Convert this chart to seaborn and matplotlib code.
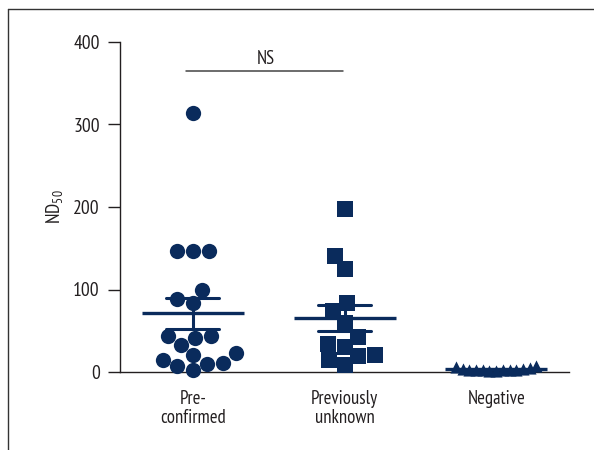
import numpy as np
import pandas as pd
import seaborn as sns
import matplotlib.pyplot as plt
from matplotlib.lines import Line2D
from matplotlib.path import Path

# ---- data ----
groups = ["Pre-\nconfirmed", "Previously\nunknown", "Negative"]
pre_confirmed = [314, 147, 147, 147, 99, 89, 84, 44, 41, 44, 33, 23, 21, 14, 10, 7, 11, 2]
previously_unknown = [198, 141, 125, 84, 74, 60, 42, 30, 34, 19, 21, 14, 8]
negative = [3, 2, 1, 4, 6, 3, 5, 2, 1, 7, 3, 4, 2]
y_ticks = [0, 100, 200, 300, 400]
sig_label = "NS"
sig_value = 365

navy = "#0a2b5c"
dark = "#231f20"
FONT = ["PT Sans Narrow", "DejaVu Sans"]

sns.set_theme(style="white")
plt.rcParams["font.family"] = FONT
plt.rcParams["mathtext.fontset"] = "custom"
plt.rcParams["mathtext.rm"] = "PT Sans Narrow"
plt.rcParams["mathtext.it"] = "PT Sans Narrow"
plt.rcParams["mathtext.bf"] = "PT Sans Narrow"

df = pd.DataFrame({
    "group": [groups[0]] * len(pre_confirmed) + [groups[1]] * len(previously_unknown) + [groups[2]] * len(negative),
    "value": pre_confirmed + previously_unknown + negative,
})

fig = plt.figure(figsize=(5.94, 4.5), dpi=100)
ax = fig.add_axes([120 / 594, 1 - 372 / 450, (569 - 120) / 594, (372 - 42) / 450])

# mean +/- SEM
sns.pointplot(data=df, x="group", y="value", order=groups, errorbar="se",
              capsize=0.35, linestyle="none", marker="_", markersize=74,
              markeredgewidth=2.4, color=navy, err_kws={"linewidth": 2.2},
              ax=ax, zorder=2)

markers = ["o", "s", "^"]
sizes = [11, 11.5, 4.6]      # swarm layout size (pt)
scale = [1.0, 1.0, 1.9]      # drawn marker enlargement (overlapping swarm)
for g, m, s, k in zip(groups, markers, sizes, scale):
    sub = df[df["group"] == g]
    n0 = len(ax.collections)
    sns.swarmplot(data=sub, x="group", y="value", order=groups, marker=m,
                  size=s, color=navy, linewidth=0, ax=ax, warn_thresh=1, zorder=3)
    if k != 1.0:
        for c in ax.collections[n0:]:
            p = c.get_paths()[0]
            c.set_paths([Path(p.vertices * k, p.codes)])

for c in ax.collections:
    c.set_clip_on(False)
for l in ax.lines:
    l.set_clip_on(False)

ax.set_xlim(-0.48, 2.48)
ax.set_ylim(0, 400)
ax.set_yticks(y_ticks)
ax.set_xlabel("")
ax.set_ylabel(r"ND$_{50}$", fontsize=14, color=dark, labelpad=6)

for side in ["top", "right"]:
    ax.spines[side].set_visible(False)
for side in ["left", "bottom"]:
    ax.spines[side].set_color(dark)
    ax.spines[side].set_linewidth(1.0)

ax.tick_params(axis="y", length=8.5, width=1, color=dark, labelsize=14,
               labelcolor=dark, pad=6, left=True)
ax.tick_params(axis="x", length=0, labelsize=13.5, labelcolor=dark, pad=13)
for t in ax.get_xticklabels():
    t.set_linespacing(1.05)

# significance bar
ax.plot([-0.045, 0.99], [sig_value, sig_value], color="#444444", lw=1.1, clip_on=False)
ax.text(0.48, sig_value + 4, sig_label, ha="center", va="bottom", fontsize=13.5, color=dark)

# image frame (left and top)
fig.add_artist(Line2D([8 / 594, 8 / 594], [0, 1 - 9 / 450], color="#333333", lw=1.0))
fig.add_artist(Line2D([8 / 594, 1], [1 - 9 / 450, 1 - 9 / 450], color="#333333", lw=1.0))

fig.savefig("out.png", dpi=100)
